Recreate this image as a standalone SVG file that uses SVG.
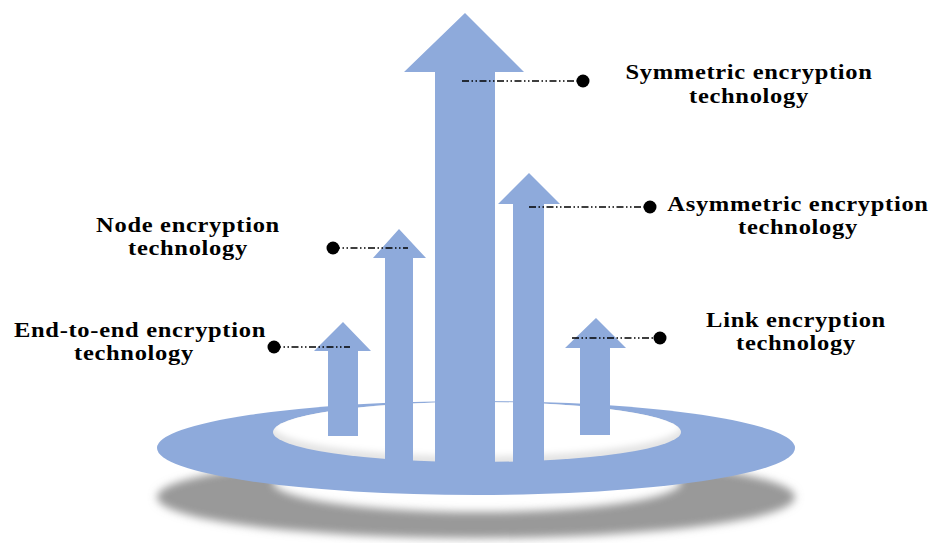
<svg xmlns="http://www.w3.org/2000/svg" width="933" height="543" viewBox="0 0 933 543">
  <defs>
    <style>
      .arrow { fill: #8eaadb; }
      .lead { fill: none; stroke: #000; stroke-width: 1.3; stroke-dasharray: 7 2.5 1.5 2.5 1.5 2.5; }
      .dot { fill: #000; }
      .label { font-family: "Liberation Serif", "Times New Roman", serif; font-weight: bold; font-size: 21.5px; letter-spacing: 0.6px; fill: #000; text-anchor: middle; }
    </style>
    <filter id="soft" x="-10%" y="-50%" width="120%" height="200%">
      <feGaussianBlur stdDeviation="4"/>
    </filter>
    <filter id="softer" x="-10%" y="-50%" width="120%" height="200%">
      <feGaussianBlur stdDeviation="3"/>
    </filter>
    <clipPath id="holeClip">
      <ellipse cx="477" cy="432" rx="204" ry="30"/>
    </clipPath>
  </defs>

  <rect width="933" height="543" fill="#fff"/>

  <!-- base ring with its cast shadow -->
  <g id="base">
    <path d="M157,497 a319,41 0 1,0 638,0 a319,41 0 1,0 -638,0 Z M273,482 a204,30 0 1,0 408,0 a204,30 0 1,0 -408,0 Z"
          fill="#999" fill-rule="evenodd" filter="url(#soft)"/>
    <ellipse cx="476" cy="448" rx="319" ry="47" fill="#8eaadb"/>
    <ellipse cx="477" cy="432" rx="204" ry="30" fill="#e4e4e4"/>
    <g clip-path="url(#holeClip)">
      <ellipse cx="477" cy="426" rx="204" ry="30" fill="#fff" filter="url(#softer)"/>
    </g>
  </g>

  <!-- arrows -->
  <g id="arrow-symmetric">
    <polygon class="arrow" points="465,13 524,72 495,72 495,462 435,462 435,72 404,72"/>
  </g>
  <g id="arrow-asymmetric">
    <polygon class="arrow" points="529,173 560,204 544,204 544,462 513,462 513,204 498,204"/>
  </g>
  <g id="arrow-node">
    <polygon class="arrow" points="399,229 426,258 413,258 413,462 385,462 385,258 373,258"/>
  </g>
  <g id="arrow-end-to-end">
    <polygon class="arrow" points="343,322 371,351 358,351 358,436 328,436 328,351 314,351"/>
  </g>
  <g id="arrow-link">
    <polygon class="arrow" points="596,318 626,348 610,348 610,435 580,435 580,348 565,348"/>
  </g>

  <!-- leader lines -->
  <g id="connectors">
    <line class="lead" x1="462" y1="81" x2="583" y2="81"/>
    <circle class="dot" cx="583" cy="81" r="6.5"/>
    <line class="lead" x1="529" y1="207" x2="650" y2="207"/>
    <circle class="dot" cx="650" cy="207" r="6.5"/>
    <line class="lead" x1="333" y1="248" x2="408" y2="248"/>
    <circle class="dot" cx="333" cy="248" r="6.5"/>
    <line class="lead" x1="274" y1="347" x2="350" y2="347"/>
    <circle class="dot" cx="274" cy="347" r="6.5"/>
    <line class="lead" x1="572" y1="338" x2="660" y2="338"/>
    <circle class="dot" cx="660" cy="338" r="6.5"/>
  </g>

  <!-- labels (slightly widened serif) -->
  <g id="label-symmetric">
    <text class="label" transform="translate(749 79) scale(1.14 1)"><tspan x="0" y="0">Symmetric encryption</tspan><tspan x="0" y="24">technology</tspan></text>
  </g>
  <g id="label-asymmetric">
    <text class="label" transform="translate(798 210.5) scale(1.14 1)"><tspan x="0" y="0">Asymmetric encryption</tspan><tspan x="0" y="24">technology</tspan></text>
  </g>
  <g id="label-node">
    <text class="label" transform="translate(188 231.5) scale(1.14 1)"><tspan x="0" y="0">Node encryption</tspan><tspan x="0" y="24">technology</tspan></text>
  </g>
  <g id="label-end-to-end">
    <text class="label" transform="translate(140 336.5) scale(1.14 1)"><tspan x="0" y="0">End-to-end encryption</tspan><tspan x="-5.3" y="24">technology</tspan></text>
  </g>
  <g id="label-link">
    <text class="label" transform="translate(796 326.5) scale(1.14 1)"><tspan x="0" y="0">Link encryption</tspan><tspan x="0" y="24">technology</tspan></text>
  </g>
</svg>
